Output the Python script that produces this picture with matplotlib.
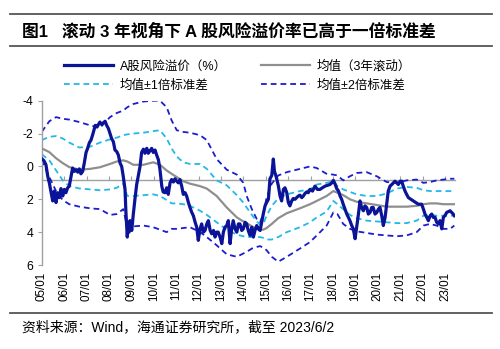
import matplotlib
matplotlib.use("Agg")
import matplotlib.pyplot as plt
from matplotlib.lines import Line2D

plt.rcParams['font.family'] = ['Liberation Sans', 'Noto Sans CJK SC', 'DejaVu Sans']
plt.rcParams['axes.unicode_minus'] = False

# ---------------- data (decimal years, values in %) ----------------
premium_x = [2005.00, 2005.10, 2005.19, 2005.27, 2005.34, 2005.42, 2005.49, 2005.56, 2005.64, 2005.71,
             2005.79, 2005.86, 2005.94, 2006.01, 2006.08, 2006.16, 2006.23, 2006.31, 2006.38, 2006.46,
             2006.53, 2006.61, 2006.68, 2006.75, 2006.83, 2006.90, 2006.98, 2007.05, 2007.13, 2007.20,
             2007.28, 2007.39, 2007.47, 2007.53, 2007.60, 2007.68, 2007.75, 2007.83, 2007.90, 2007.98,
             2008.05, 2008.12, 2008.20, 2008.27, 2008.35, 2008.42, 2008.50, 2008.57, 2008.64, 2008.72,
             2008.76, 2008.82, 2008.86, 2008.90, 2008.94, 2009.02, 2009.09, 2009.17, 2009.24, 2009.31,
             2009.39, 2009.46, 2009.54, 2009.61, 2009.69, 2009.76, 2009.83, 2009.91, 2009.98, 2010.06,
             2010.13, 2010.21, 2010.28, 2010.36, 2010.42, 2010.50, 2010.58, 2010.65, 2010.73, 2010.80,
             2010.88, 2010.95, 2011.03, 2011.10, 2011.17, 2011.25, 2011.32, 2011.40, 2011.47, 2011.55,
             2011.62, 2011.70, 2011.77, 2011.85, 2011.92, 2011.99, 2012.07, 2012.14, 2012.22, 2012.29,
             2012.37, 2012.44, 2012.52, 2012.59, 2012.67, 2012.74, 2012.81, 2012.88, 2012.96, 2013.04,
             2013.11, 2013.18, 2013.26, 2013.33, 2013.41, 2013.48, 2013.55, 2013.63, 2013.71, 2013.78,
             2013.85, 2013.93, 2014.00, 2014.08, 2014.15, 2014.22, 2014.30, 2014.38, 2014.45, 2014.52,
             2014.60, 2014.67, 2014.75, 2014.82, 2014.89, 2014.97, 2015.04, 2015.12, 2015.19, 2015.27,
             2015.34, 2015.39, 2015.44, 2015.49, 2015.56, 2015.64, 2015.71, 2015.79, 2015.86, 2015.94,
             2016.01, 2016.08, 2016.16, 2016.23, 2016.31, 2016.38, 2016.46, 2016.53, 2016.61, 2016.68,
             2016.75, 2016.83, 2016.90, 2016.98, 2017.09, 2017.20, 2017.31, 2017.42, 2017.53, 2017.65,
             2017.76, 2017.87, 2017.95, 2018.02, 2018.09, 2018.17, 2018.25, 2018.32, 2018.39, 2018.46,
             2018.54, 2018.62, 2018.69, 2018.76, 2018.84, 2018.91, 2018.99, 2019.06, 2019.13, 2019.21,
             2019.28, 2019.36, 2019.43, 2019.51, 2019.58, 2019.66, 2019.73, 2019.80, 2019.88, 2019.96,
             2020.03, 2020.10, 2020.18, 2020.25, 2020.33, 2020.40, 2020.47, 2020.55, 2020.63, 2020.70,
             2020.77, 2020.85, 2020.92, 2021.00, 2021.07, 2021.14, 2021.22, 2021.29, 2021.37, 2021.48,
             2021.59, 2021.70, 2021.81, 2021.88, 2021.96, 2022.04, 2022.11, 2022.19, 2022.26, 2022.34,
             2022.41, 2022.48, 2022.56, 2022.63, 2022.71, 2022.78, 2022.86, 2022.93, 2023.00, 2023.08,
             2023.15, 2023.23, 2023.30, 2023.37, 2023.42]
premium = [-0.47, -0.35, -0.10, 0.60, 1.00, 1.60, 2.10, 1.50, 2.20, 1.60,
           1.90, 1.35, 1.80, 1.40, 1.60, 1.30, 1.20, 0.60, 0.10, 0.30,
           0.20, 0.35, 0.15, 0.45, 0.30, -0.20, -0.85, -1.10, -1.45, -1.60,
           -1.95, -2.50, -2.40, -2.55, -2.70, -2.55, -2.65, -2.75, -2.50, -2.30,
           -2.00, -1.70, -1.50, -1.00, -0.90, -0.70, -0.20, 0.00, 0.60, 1.40,
           2.80, 4.30, 3.40, 4.00, 3.30, 3.90, 2.90, 1.90, 1.10, 0.60,
           0.00, -0.85, -1.05, -0.80, -1.10, -0.80, -0.95, -1.10, -0.85, -1.00,
           -0.70, -0.40, 0.20, 1.20, 1.55, 1.60, 1.30, 1.70, 1.00, 0.80,
           0.95, 0.75, 0.90, 1.00, 0.80, 1.20, 1.70, 1.60, 1.80, 2.20,
           2.50, 2.80, 3.00, 3.40, 3.70, 4.50, 3.80, 3.50, 4.00, 3.90,
           3.50, 3.30, 3.90, 4.10, 3.90, 4.30, 4.00, 4.00, 4.30, 4.70,
           4.00, 3.70, 3.60, 3.30, 4.70, 3.80, 3.30, 3.80, 4.00, 3.50,
           3.50, 3.90, 3.80, 3.40, 3.50, 3.90, 4.20, 3.70, 4.30, 3.90,
           3.60, 3.80, 3.90, 3.40, 2.90, 2.40, 2.20, 2.00, 0.75, 0.55,
           -0.45, 0.30, 0.50, 0.75, 1.15, 1.80, 2.10, 1.40, 1.30, 1.60,
           2.20, 2.40, 2.10, 1.95, 2.00, 1.90, 1.80, 1.75, 1.90, 1.80,
           1.65, 1.55, 1.60, 1.40, 1.50, 1.20, 1.40, 1.40, 1.30, 1.20,
           1.15, 1.10, 1.00, 0.85, 1.05, 1.35, 1.50, 1.80, 2.00, 2.30,
           2.60, 2.90, 3.10, 3.30, 3.60, 3.80, 4.40, 3.70, 3.00, 2.10,
           2.50, 2.70, 2.40, 2.50, 2.90, 2.80, 2.50, 2.50, 2.90, 2.80,
           2.60, 2.50, 3.00, 3.60, 3.10, 2.30, 1.50, 1.20, 1.10, 1.00,
           0.90, 1.00, 1.10, 0.90, 0.90, 1.20, 1.50, 1.70, 1.90, 2.00,
           2.10, 2.20, 2.30, 2.30, 2.30, 2.60, 2.90, 3.10, 3.30, 3.00,
           2.90, 3.10, 3.10, 3.40, 3.50, 3.30, 3.80, 3.10, 3.00, 2.80,
           2.75, 2.70, 2.80, 2.90, 3.00]

band_x = [2005.00, 2005.34, 2005.64, 2005.94, 2006.23, 2006.68, 2007.16, 2007.60, 2008.05, 2008.35,
          2008.64, 2008.82, 2009.09, 2009.54, 2009.98, 2010.28, 2010.58, 2010.80, 2011.03, 2011.32,
          2011.62, 2012.07, 2012.37, 2012.81, 2013.26, 2013.71, 2014.00, 2014.15, 2014.38, 2014.60,
          2014.75, 2014.89, 2015.04, 2015.27, 2015.56, 2015.94, 2016.53, 2016.98, 2017.28, 2017.72,
          2018.02, 2018.20, 2018.46, 2018.76, 2019.06, 2019.51, 2019.96, 2020.40, 2020.85, 2021.29,
          2021.74, 2022.04, 2022.34, 2022.63, 2022.93, 2023.23, 2023.42]
mean_3y = [-1.10, -0.87, -0.50, -0.20, 0.04, 0.20, 0.15, 0.05, -0.15, -0.30,
           -0.37, -0.30, -0.10, -0.10, -0.25, -0.10, 0.25, 0.45, 0.65, 0.90,
           1.05, 1.20, 1.35, 1.80, 2.50, 3.10, 3.35, 3.45, 3.65, 3.80,
           3.85, 3.85, 3.75, 3.50, 3.15, 2.85, 2.55, 2.30, 2.10, 1.80,
           1.50, 1.60, 1.75, 2.00, 2.15, 2.25, 2.35, 2.45, 2.45, 2.45,
           2.40, 2.30, 2.25, 2.25, 2.30, 2.30, 2.30]
mean_minus_1sd = [-1.60, -1.80, -1.85, -1.70, -1.45, -1.15, -1.20, -1.45, -1.65, -1.75,
                  -1.90, -1.95, -2.00, -2.05, -2.15, -2.20, -1.70, -1.10, -0.60, -0.25,
                  -0.15, -0.15, 0.15, 0.85, 1.15, 1.75, 2.20, 2.50, 2.95, 3.35,
                  3.55, 3.50, 3.00, 2.40, 1.95, 1.70, 1.50, 1.40, 1.10, 1.00,
                  0.90, 1.20, 1.40, 1.55, 1.70, 1.80, 1.80, 1.65, 1.35, 1.25,
                  1.30, 1.45, 1.50, 1.50, 1.50, 1.50, 1.50]
mean_plus_1sd = [-0.75, -0.37, 0.24, 0.85, 1.20, 1.34, 1.40, 1.45, 1.40, 1.30,
                 1.05, 1.80, 1.80, 1.75, 1.70, 1.80, 2.05, 2.25, 2.25, 2.30,
                 2.40, 2.70, 2.95, 3.40, 3.85, 4.15, 4.25, 4.30, 4.30, 4.30,
                 4.30, 4.35, 4.45, 4.45, 4.30, 4.00, 3.70, 3.40, 3.10, 2.75,
                 2.10, 2.30, 2.60, 2.95, 3.15, 3.30, 3.35, 3.40, 3.45, 3.45,
                 3.30, 3.00, 2.95, 3.00, 3.00, 3.00, 3.00]
mean_minus_2sd = [-2.10, -2.75, -3.00, -2.90, -2.85, -2.70, -2.50, -2.35, -3.00, -3.25,
                  -3.40, -3.60, -3.80, -3.95, -4.00, -4.00, -3.60, -2.80, -2.20, -2.10,
                  -2.05, -1.90, -1.60, -0.45, 0.20, 0.50, 1.00, 1.80, 2.60, 3.20,
                  3.40, 2.90, 1.90, 1.05, 0.55, 0.35, 0.15, 0.00, 0.10, 0.45,
                  0.50, 0.55, 0.85, 0.60, 0.40, 0.35, 0.60, 0.95, 1.00, 0.85,
                  0.80, 1.00, 0.95, 0.85, 0.80, 0.75, 0.75]
mean_plus_2sd = [-0.40, 0.65, 1.50, 2.05, 2.30, 2.45, 2.55, 2.60, 2.95, 2.90,
                 2.60, 3.70, 3.65, 3.60, 3.70, 3.85, 4.00, 3.80, 3.80, 3.75,
                 3.70, 4.00, 4.30, 4.80, 5.35, 5.50, 5.30, 5.20, 5.00, 4.90,
                 4.85, 4.95, 5.10, 5.50, 5.80, 5.50, 5.00, 4.60, 4.20, 3.60,
                 2.80, 2.90, 3.50, 3.80, 3.95, 4.05, 4.15, 4.20, 4.25, 4.20,
                 4.00, 3.60, 3.50, 3.60, 3.80, 3.80, 3.60]

year_ticks = list(range(2005, 2024))
year_labels = ['05/01', '06/01', '07/01', '08/01', '09/01', '10/01', '11/01', '12/01', '13/01', '14/01',
               '15/01', '16/01', '17/01', '18/01', '19/01', '20/01', '21/01', '22/01', '23/01']
y_ticks = [-4, -2, 0, 2, 4, 6]

title = '图1   滚动 3 年视角下 A 股风险溢价率已高于一倍标准差'
source = '资料来源：Wind，海通证券研究所，截至 2023/6/2'
labels = ['A股风险溢价（%）', '均值（3年滚动）', '均值±1倍标准差', '均值±2倍标准差']

# ---------------- figure ----------------
W, H = 500, 349
fig = plt.figure(figsize=(W / 100, H / 100), dpi=100)

def fx(px):
    return px / W

def fy(py):
    return 1 - py / H

rule_color = '#555555'
for py in (14, 46, 313):
    fig.add_artist(Line2D([fx(10), fx(492)], [fy(py), fy(py)], color=rule_color, lw=1.3))

fig.text(fx(22), fy(31), title, fontsize=12.1, fontweight='bold', va='center', ha='left')
fig.text(fx(22), fy(327), source, fontsize=10, va='center', ha='left')

ax = fig.add_axes([fx(41.7), fy(265), fx(455) - fx(41.7), fy(100.7) - fy(265)])

navy = '#0b1496'
gray = '#8f8f8f'
cyan = '#22b9e6'
blue = '#1c1ccf'

l_mean, = ax.plot(band_x, mean_3y, color=gray, lw=1.6, zorder=3)
l_c1, = ax.plot(band_x, mean_minus_1sd, color=cyan, lw=1.3, ls=(0, (3.2, 2.2)), zorder=2)
ax.plot(band_x, mean_plus_1sd, color=cyan, lw=1.3, ls=(0, (3.2, 2.2)), zorder=2)
l_b2, = ax.plot(band_x, mean_minus_2sd, color=blue, lw=1.3, ls=(0, (3.2, 2.2)), zorder=2)
ax.plot(band_x, mean_plus_2sd, color=blue, lw=1.3, ls=(0, (3.2, 2.2)), zorder=2)
l_main, = ax.plot(premium_x, premium, color=navy, lw=2.3, zorder=4, solid_joinstyle='round')

ax.set_xlim(2005.0, 2023.45)
ax.set_ylim(6, -4)
ax.set_facecolor('none')

for s in ('top', 'right'):
    ax.spines[s].set_visible(False)
ax.spines['left'].set_color('#a0a0a0')
ax.spines['left'].set_linewidth(1.0)
ax.spines['bottom'].set_position(('data', 0.85))
ax.spines['bottom'].set_color('#a0a0a0')
ax.spines['bottom'].set_linewidth(1.0)
ax.spines['bottom'].set_zorder(1)

ax.set_yticks(y_ticks)
ax.set_yticklabels([str(v) for v in y_ticks])
ax.tick_params(axis='y', direction='out', length=3, color='#a0a0a0', labelsize=8.8, pad=3)

ax.set_xticks(year_ticks)
ax.set_xticklabels(year_labels, rotation=90, va='top', ha='center')
ax.tick_params(axis='x', direction='in', length=3, color='#a0a0a0', labelsize=8.4, pad=66)

leg = fig.legend([l_main, l_c1, l_mean, l_b2], [labels[0], labels[2], labels[1], labels[3]],
                 ncol=2, loc='upper left', bbox_to_anchor=(fx(64), fy(60)), frameon=False,
                 fontsize=9, handlelength=3.9, handletextpad=0.55, columnspacing=2.75,
                 labelspacing=0.55, borderpad=0, borderaxespad=0)

fig.savefig('out.png', dpi=100)
